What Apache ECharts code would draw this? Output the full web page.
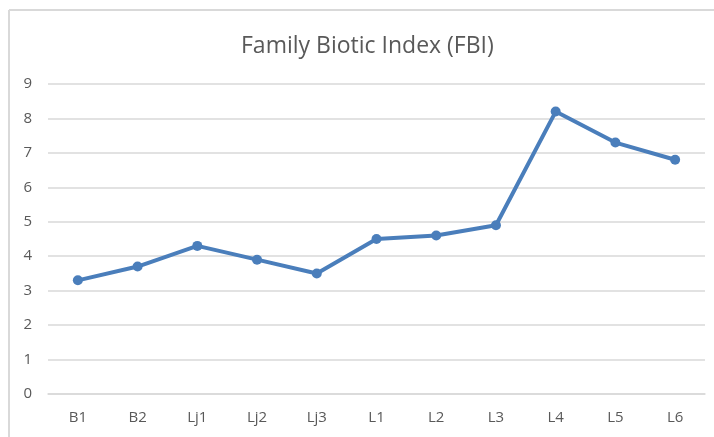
<!DOCTYPE html>
<html>
<head>
<meta charset="utf-8">
<script src="https://cdn.jsdelivr.net/npm/echarts@6/dist/echarts.min.js"></script>
<style>
  html, body { margin: 0; padding: 0; background: #fff; }
  #main { width: 714px; height: 437px; }
</style>
</head>
<body>
<div id="main"></div>
<script>
var sites = ["B1", "B2", "Lj1", "Lj2", "Lj3", "L1", "L2", "L3", "L4", "L5", "L6"];
var fbi = [3.3, 3.7, 4.3, 3.9, 3.5, 4.5, 4.6, 4.9, 8.2, 7.3, 6.8];
var yTicks = [0, 1, 2, 3, 4, 5, 6, 7, 8, 9];

var myChart = echarts.init(document.getElementById('main'));
myChart.setOption({
  animation: false,
  // chart-area frame, cropped on the right and bottom
  graphic: [
    { type: 'line', shape: { x1: 9, y1: 10, x2: 714, y2: 10 }, style: { stroke: '#d9d9d9', lineWidth: 2 } },
    { type: 'line', shape: { x1: 9, y1: 10, x2: 9, y2: 437 }, style: { stroke: '#d9d9d9', lineWidth: 2 } }
  ],
  title: {
    text: 'Family Biotic Index (FBI)',
    left: 236,
    top: 30,
    textStyle: { color: '#595959', fontSize: 23, fontWeight: 'normal', fontFamily: 'Open Sans' }
  },
  grid: { left: 48, right: 9, top: 84, bottom: 43 },
  xAxis: {
    type: 'category',
    data: sites,
    axisLine: { lineStyle: { color: '#d9d9d9', width: 1.5 } },
    axisTick: { show: false },
    axisLabel: { color: '#595959', fontSize: 15, margin: 16, fontFamily: 'Open Sans' }
  },
  yAxis: {
    type: 'value',
    min: yTicks[0],
    max: yTicks[yTicks.length - 1],
    interval: 1,
    axisLine: { show: false },
    axisTick: { show: false },
    axisLabel: { color: '#595959', fontSize: 15, margin: 16, fontFamily: 'Open Sans' },
    splitLine: { lineStyle: { color: '#d9d9d9', width: 1.5 } }
  },
  series: [{
    name: 'FBI',
    type: 'line',
    data: fbi,
    symbol: 'circle',
    symbolSize: 10,
    lineStyle: { color: '#4a7ebb', width: 4 },
    itemStyle: { color: '#4a7ebb' }
  }]
});
</script>
</body>
</html>
